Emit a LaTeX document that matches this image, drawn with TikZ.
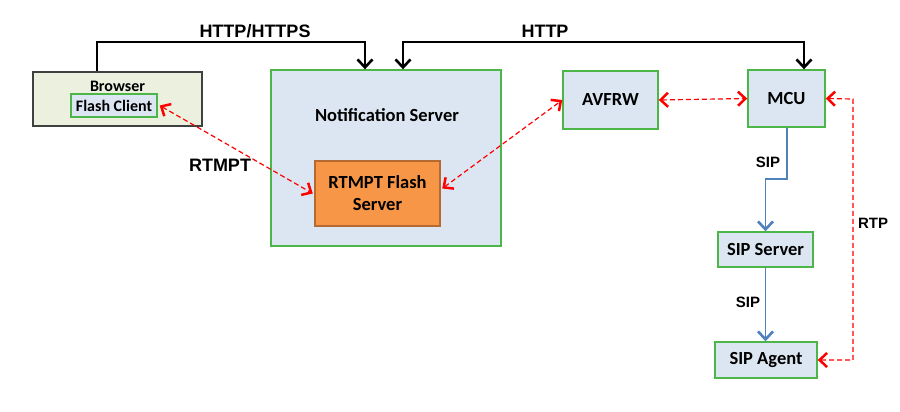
\documentclass[tikz,border=0pt]{standalone}
\usepackage{fontspec}
\setmainfont{Carlito}
\newfontfamily\lblfont{Liberation Sans}
\usetikzlibrary{arrows.meta}
\definecolor{boxfill}{HTML}{DCE6F2}
\definecolor{boxgreen}{HTML}{4CB748}
\definecolor{brfill}{HTML}{EBF1DE}
\definecolor{brdraw}{HTML}{404040}
\definecolor{orfill}{HTML}{F79646}
\definecolor{ordraw}{HTML}{B46A30}
\definecolor{sipblue}{HTML}{4F81BD}
\definecolor{rtred}{HTML}{FF0000}
\tikzset{
  box/.style={draw=boxgreen, fill=boxfill, line width=1.4pt, inner sep=0pt},
  boxtext/.style={font=\fontsize{18.5}{21}\selectfont\bfseries, align=center, inner sep=0pt},
  smalltext/.style={font=\fontsize{16}{18}\selectfont\bfseries, inner sep=0pt},
  biglbl/.style={font=\lblfont\fontsize{18}{20}\selectfont\bfseries, inner sep=0pt},
  smalllbl/.style={font=\lblfont\fontsize{15}{17}\selectfont\bfseries, inner sep=0pt},
  blk/.style={draw=black, line width=1.3pt, -{Straight Barb[length=8pt,width=15pt,line width=2.6pt]}},
  blkboth/.style={draw=black, line width=1.3pt, {Straight Barb[length=8pt,width=15pt,line width=2.6pt]}-{Straight Barb[length=8pt,width=15pt,line width=2.6pt]}},
  rtp/.style={draw=rtred, line width=1.2pt, dash pattern=on 5pt off 3pt, {Straight Barb[length=7.5pt,width=14pt,line width=2.5pt]}-{Straight Barb[length=7.5pt,width=14pt,line width=2.5pt]}},
  sip/.style={draw=sipblue, line width=1.5pt, -{Straight Barb[length=8pt,width=15pt,line width=2.6pt]}}
}
\begin{document}
\begin{tikzpicture}[x=1pt,y=-1pt]
\useasboundingbox (0,0) rectangle (900,412);
% Browser
\node[draw=brdraw, fill=brfill, line width=1.3pt, minimum width=169pt, minimum height=54pt, inner sep=0pt] (browser) at (117.5,99) {};
\node[smalltext] (browsertxt) at (117.5,86) {Browser};
\node[box, minimum width=86pt, minimum height=23pt] (flash) at (114,105.5) {};
\node[smalltext] (flashtxt) at (114,105.5) {Flash Client};
% Notification server
\node[box, minimum width=230pt, minimum height=176pt] (ns) at (386,158) {};
\node[boxtext] (nstxt) at (387,115) {Notification Server};
\node[draw=ordraw, fill=orfill, line width=2.5pt, minimum width=125pt, minimum height=65pt, boxtext] (rtmpt) at (377.5,193.5) {RTMPT Flash\\[1pt]Server};
% Others
\node[box, boxtext, minimum width=95pt, minimum height=58pt] (avfrw) at (610.5,100) {AVFRW};
\node[box, boxtext, minimum width=77pt, minimum height=57pt] (mcu) at (786.5,98.5) {MCU};
\node[box, boxtext, minimum width=95pt, minimum height=35pt] (sipserver) at (765.5,249.5) {SIP Server};
\node[box, boxtext, minimum width=102pt, minimum height=36pt] (sipagent) at (766,360) {SIP Agent};
% labels
\node[biglbl] (lhttps) at (255,31) {HTTP/HTTPS};
\node[biglbl] (lhttp) at (545,31) {HTTP};
\node[biglbl] (lrtmpt) at (220,165) {RTMPT};
\node[smalllbl] (lsip1) at (768,162) {SIP};
\node[smalllbl] (lsip2) at (748,302) {SIP};
\node[smalllbl] (lrtp) at (873,223) {RTP};
% black connectors
\coordinate (c1) at (97,42);
\coordinate (c2) at (403,42);
\draw[blk] (browser.north -| c1) -- (c1) -| (ns.north -| 365,0);
\draw[blkboth] (ns.north -| c2) -- (c2) -| (mcu.north -| 804,0);
% red dashed
\draw[rtp] ([xshift=2pt]flash.east) -- ([xshift=-1pt]rtmpt.west);
\draw[rtp] ([xshift=1pt,yshift=5pt]rtmpt.east) -- (avfrw.west);
\draw[rtp] (avfrw.east) -- (mcu.east -| mcu.west);
\coordinate (r1) at (853,99);
\draw[rtp] (mcu.east) -- (r1) |- (sipagent.east);
% blue
\coordinate (b1) at (787,179);
\draw[sip] (mcu.south -| b1) -- (b1) -| (sipserver.north);
\draw[sip] (sipserver.south) -- (sipagent.north -| sipserver.south);
\end{tikzpicture}
\end{document}
